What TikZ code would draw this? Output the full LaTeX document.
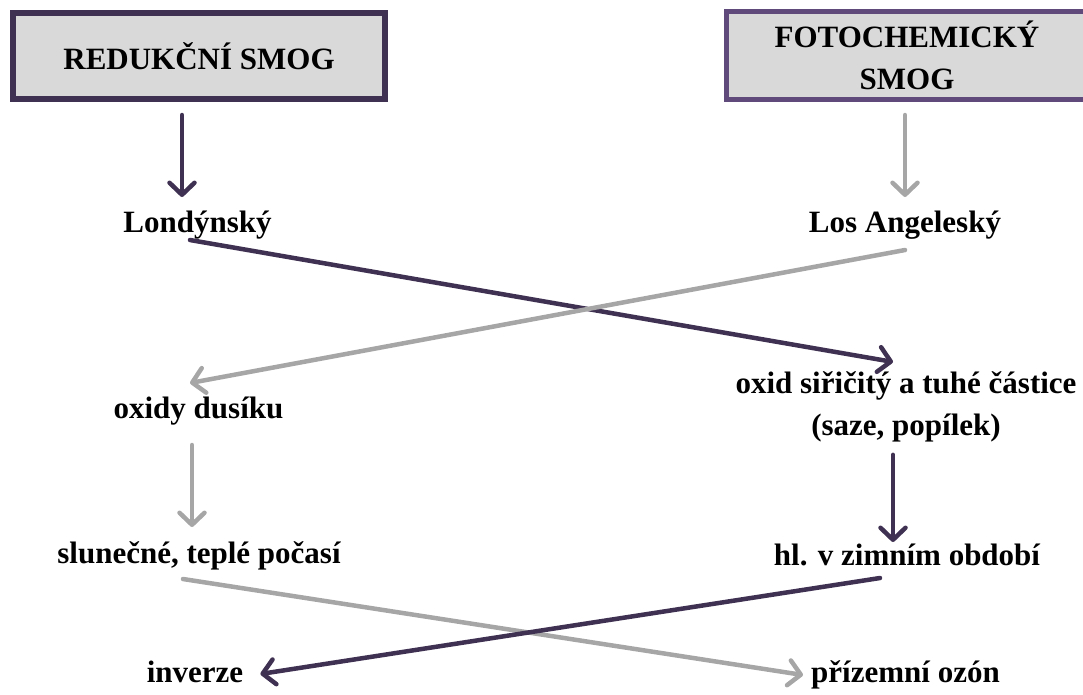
\documentclass[tikz,border=0pt]{standalone}
\usepackage{fontspec}
\setmainfont{Liberation Serif}
\usetikzlibrary{arrows.meta,calc}
\definecolor{smogdark}{HTML}{3F3151}
\definecolor{smogpurple}{HTML}{604A7B}
\definecolor{smoggray}{HTML}{A6A6A6}
\definecolor{smogfill}{HTML}{D9D9D9}

\begin{document}
\begin{tikzpicture}[x=1pt, y=-1pt, font=\fontsize{31}{42}\selectfont\bfseries, smogtip/.style={-{Straight Barb[round,length=12pt,width=25pt]}}, darkline/.style={smogdark, line width=4.5pt, line cap=round, smogtip}, grayline/.style={smoggray, line width=4.5pt, line cap=round, smogtip}, txt/.style={inner sep=0pt, align=center}, headbox/.style={fill=smogfill, align=center, inner sep=0pt}]
\useasboundingbox (0,0) rectangle (1083,694);
\node[headbox, draw=smogdark, line width=6pt, minimum width=372pt, minimum height=86pt] (red) at (199,56) {REDUKČNÍ SMOG};
\node[headbox, draw=smogpurple, line width=5pt, minimum width=361pt, minimum height=88pt] (foto) at (907,55.5) {FOTOCHEMICKÝ\\SMOG};
\node[txt, anchor=base] (lon) at (197.5,232) {Londýnský};
\node[txt, anchor=base] (la) at (905,232) {Los Angeleský};
\node[txt, anchor=base] (oxd) at (198.5,418) {oxidy dusíku};
\node[txt, anchor=base] (so2) at (906,435) {oxid siřičitý a tuhé částice\\(saze, popílek)};
\node[txt, anchor=base] (sun) at (199,563) {slunečné, teplé počasí};
\node[txt, anchor=base] (zima) at (907,565) {hl. v zimním období};
\node[txt, anchor=base] (inv) at (195,682) {inverze};
\node[txt, anchor=base] (ozon) at (905.5,682) {přízemní ozón};
\draw[darkline] ($(red.south)+(-17,13)$) -- ($(lon.base)+(-15.5,-35)$);
\draw[grayline] ($(foto.south)+(-2,13)$) -- ($(la.base)+(0,-35)$);
\draw[darkline] ($(lon.base)+(-7.5,8)$) -- ($(so2.north)+(-13,-9)$);
\draw[grayline] ($(la.base)+(0,18)$) -- ($(oxd.base)+(-8.5,-35)$);
\draw[grayline] ($(oxd.base)+(-6.5,27)$) -- ($(sun.base)+(-7,-36)$);
\draw[darkline] ($(so2.south)+(-13,13)$) -- ($(zima.base)+(-14,-23)$);
\draw[grayline] ($(sun.base)+(-16,16)$) -- ($(ozon.base west)+(-8,-7)$);
\draw[darkline] ($(zima.base)+(-27,13)$) -- ($(inv.base east)+(17,-8)$);
\end{tikzpicture}
\end{document}
